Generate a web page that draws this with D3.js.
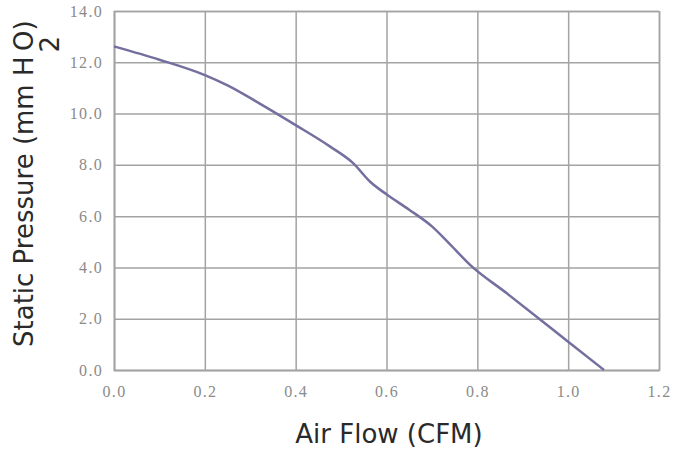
<!DOCTYPE html>
<html>
<head>
<meta charset="utf-8">
<script src="https://cdn.jsdelivr.net/npm/d3@7"></script>
<style>
  body { margin: 0; background: #fff; }
  .grid line, .grid path { stroke: #a3a3a3; stroke-width: 1.5; }
  .tick text { font-family: "Liberation Serif", serif; font-size: 16px; fill: #8a8a8a; letter-spacing: 1.3px; }
  .title { font-family: "DejaVu Sans", sans-serif; font-size: 26px; fill: #2a2a2a; }
</style>
</head>
<body>
<div id="chart"></div>
<script>
// air flow (CFM) vs static pressure (mm H2O)
var flow     = [0.00, 0.10, 0.20, 0.25, 0.32, 0.40, 0.476, 0.527, 0.564, 0.60, 0.65, 0.70, 0.74, 0.784, 0.865, 0.936, 1.00, 1.079];
var pressure = [12.62, 12.1, 11.5, 11.1, 10.4, 9.55, 8.71, 8.06, 7.34, 6.85, 6.25, 5.6, 4.9, 4.1, 2.99, 2.0, 1.1, 0.0];
var xTicks = [0, 0.2, 0.4, 0.6, 0.8, 1.0, 1.2];
var yTicks = [0, 2, 4, 6, 8, 10, 12, 14];

var W = 690, H = 455;
var m = {top: 11, right: 31, bottom: 85, left: 114};
var w = W - m.left - m.right, h = H - m.top - m.bottom;

var svg = d3.select("#chart").append("svg")
    .attr("width", W)
    .attr("height", H);

var g = svg.append("g")
    .attr("transform", "translate(" + m.left + "," + m.top + ")");

var x = d3.scaleLinear().domain([0, 1.2]).range([0, w]);
var y = d3.scaleLinear().domain([0, 14]).range([h, 0]);

// grid + labels
g.append("g")
    .attr("class", "grid")
    .attr("transform", "translate(0," + h + ")")
    .call(d3.axisBottom(x).tickValues(xTicks).tickSize(-h).tickPadding(16)
      .tickFormat(d3.format(".1f")));

g.append("g")
    .attr("class", "grid")
    .call(d3.axisLeft(y).tickValues(yTicks).tickSize(-w).tickPadding(11)
      .tickFormat(d3.format(".1f")));

// curve
var pts = flow.map(function(d, i) { return [d, pressure[i]]; });

g.append("path")
    .datum(pts)
    .attr("fill", "none")
    .attr("stroke", "#736f9e")
    .attr("stroke-width", 2.5)
    .attr("d", d3.line()
      .x(function(d) { return x(d[0]); })
      .y(function(d) { return y(d[1]); })
      .curve(d3.curveMonotoneX));

// axis titles
svg.append("text")
    .attr("class", "title")
    .attr("x", 389)
    .attr("y", 443)
    .attr("text-anchor", "middle")
    .text("Air Flow (CFM)");

var yt = svg.append("text")
    .attr("class", "title")
    .attr("transform", "translate(33,347) rotate(-90)");
yt.append("tspan").text("Static Pressure (mm H");
yt.append("tspan").attr("dx", 4).attr("dy", 26).text("2");
yt.append("tspan").attr("dx", -15).attr("dy", -26).text("O)");
</script>
</body>
</html>
